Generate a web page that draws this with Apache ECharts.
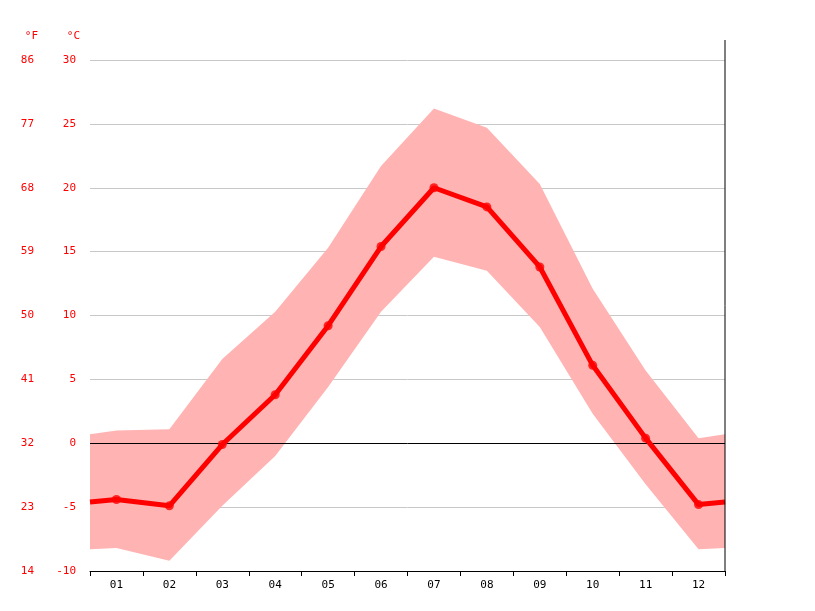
<!DOCTYPE html>
<html><head><meta charset="utf-8">
<script src="https://cdn.jsdelivr.net/npm/echarts@6/dist/echarts.min.js"></script>
<style>html,body{margin:0;padding:0;background:#fff}#c{width:815px;height:611px}</style>
</head><body><div id="c"></div>
<script>
const months = ['01','02','03','04','05','06','07','08','09','10','11','12'];
const xPos = [0.5,1,2,3,4,5,6,7,8,9,10,11,12,12.5];
const meanT = [-4.6,-4.4,-4.9,-0.1,3.8,9.2,15.4,20.0,18.5,13.8,6.1,0.4,-4.8,-4.6];
const maxT = [0.7,1.0,1.1,6.6,10.3,15.3,21.7,26.2,24.7,20.3,12.1,5.7,0.4,0.7];
const minT = [-8.3,-8.2,-9.2,-4.9,-1.0,4.4,10.3,14.6,13.5,9.1,2.3,-3.2,-8.3,-8.2];
const meanPts = xPos.map((x,i)=>[x,meanT[i]]);
const dotPts = meanPts.slice(1,13);
const font = 'DejaVu Sans Mono';
const chart = echarts.init(document.getElementById('c'));
chart.setOption({
  animation:false,
  grid:{left:90,right:90,top:60,bottom:40},
  xAxis:[
    {type:'category',data:months,boundaryGap:true,
     axisLine:{show:true,onZero:false,lineStyle:{color:'#000'}},
     axisTick:{show:true,alignWithLabel:false,length:5,lineStyle:{color:'#000'}},
     axisLabel:{color:'#000',fontFamily:font,fontSize:11,margin:9},splitLine:{show:false}},
    {type:'value',min:0.5,max:12.5,show:false}
  ],
  yAxis:[
    {type:'value',min:-10,max:30,interval:5,position:'left',
     name:'°C',nameLocation:'end',nameGap:18,nameTextStyle:{color:'#f00',fontFamily:font,fontSize:11,align:'right',padding:[0,10,0,0]},
     axisLine:{show:false},axisTick:{show:false},
     axisLabel:{color:'#f00',fontFamily:font,fontSize:11,margin:14},
     splitLine:{show:true,lineStyle:{color:'#c8c8c8'}}},
    {type:'value',min:14,max:86,interval:9,position:'left',offset:42,
     name:'°F',nameLocation:'end',nameGap:18,nameTextStyle:{color:'#f00',fontFamily:font,fontSize:11,align:'right',padding:[0,10,0,0]},
     axisLine:{show:false},axisTick:{show:false},
     axisLabel:{color:'#f00',fontFamily:font,fontSize:11,margin:14},
     splitLine:{show:false}}
  ],
  graphic:[{type:'line',shape:{x1:725,y1:40,x2:725,y2:571},style:{stroke:'#000',lineWidth:1},z:100}],
  series:[
    {type:'custom',xAxisIndex:1,yAxisIndex:0,data:[[0,0]],silent:true,z:1,
     renderItem:function(params,api){
       const pts=[];
       for(let i=0;i<xPos.length;i++) pts.push(api.coord([xPos[i],maxT[i]]));
       for(let i=xPos.length-1;i>=0;i--) pts.push(api.coord([xPos[i],minT[i]]));
       return {type:'polygon',shape:{points:pts},style:{fill:'#ffb3b3'}};
     }},
    {type:'line',xAxisIndex:1,yAxisIndex:0,data:meanPts,symbol:'none',lineStyle:{color:'#ff0000',width:5},z:5,
     markLine:{symbol:'none',silent:true,label:{show:false},lineStyle:{color:'#000',type:'solid',width:1},data:[{yAxis:0}],z:2}},
    {type:'scatter',xAxisIndex:1,yAxisIndex:0,data:dotPts,symbolSize:9,itemStyle:{color:'#ff0000'},z:6}
  ]
});
</script></body></html>
